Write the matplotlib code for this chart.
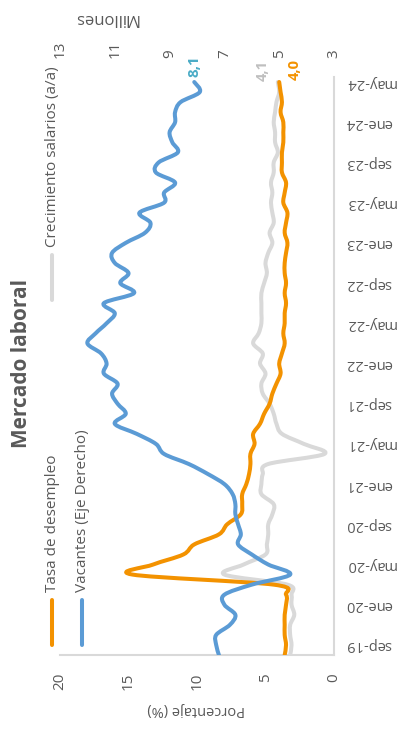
import matplotlib.pyplot as plt
from matplotlib.lines import Line2D
from matplotlib.path import Path
from matplotlib.patches import PathPatch
import matplotlib.transforms as mtransforms

plt.rcParams['font.family'] = ['Open Sans', 'DejaVu Sans']

# monthly, aug-19 .. may-24
meses = ['ago-19', 'sep-19', 'oct-19', 'nov-19', 'dic-19',
         'ene-20', 'feb-20', 'mar-20', 'abr-20', 'may-20', 'jun-20', 'jul-20', 'ago-20', 'sep-20', 'oct-20', 'nov-20', 'dic-20',
         'ene-21', 'feb-21', 'mar-21', 'abr-21', 'may-21', 'jun-21', 'jul-21', 'ago-21', 'sep-21', 'oct-21', 'nov-21', 'dic-21',
         'ene-22', 'feb-22', 'mar-22', 'abr-22', 'may-22', 'jun-22', 'jul-22', 'ago-22', 'sep-22', 'oct-22', 'nov-22', 'dic-22',
         'ene-23', 'feb-23', 'mar-23', 'abr-23', 'may-23', 'jun-23', 'jul-23', 'ago-23', 'sep-23', 'oct-23', 'nov-23', 'dic-23',
         'ene-24', 'feb-24', 'mar-24', 'abr-24', 'may-24']

desempleo = [3.6, 3.5, 3.6, 3.6, 3.6,
             3.5, 3.5, 4.4, 14.7, 13.2, 11.0, 10.2, 8.4, 7.8, 6.8, 6.7, 6.7,
             6.4, 6.2, 6.1, 6.1, 5.8, 5.9, 5.4, 5.1, 4.7, 4.5, 4.2, 3.9,
             4.0, 3.8, 3.6, 3.7, 3.6, 3.6, 3.5, 3.6, 3.5, 3.6, 3.6, 3.5,
             3.4, 3.6, 3.5, 3.4, 3.7, 3.6, 3.5, 3.8, 3.8, 3.8, 3.7, 3.7,
             3.7, 3.9, 3.8, 3.9, 4.0]

salarios = [3.2, 3.1, 3.2, 3.2, 2.9,
            3.1, 3.1, 3.4, 8.0, 6.6, 5.0, 4.9, 4.8, 4.8, 4.5, 4.4, 5.3,
            5.3, 5.2, 4.8, 0.7, 2.2, 3.8, 4.2, 4.4, 4.7, 5.2, 5.3, 5.0,
            5.4, 5.2, 5.9, 5.5, 5.3, 5.3, 5.3, 5.3, 5.1, 4.9, 5.0, 4.8,
            4.5, 4.7, 4.4, 4.5, 4.6, 4.5, 4.6, 4.4, 4.4, 4.1, 4.3, 4.3,
            4.4, 4.3, 4.2, 4.0, 4.1]

vacantes = [7.2, 7.3, 7.3, 6.8, 6.6,
            7.0, 7.0, 6.0, 4.6, 5.4, 6.0, 6.5, 6.4, 6.5, 6.6, 6.6, 6.7,
            7.0, 7.6, 8.3, 9.2, 9.5, 10.2, 11.0, 10.6, 10.9, 11.1, 10.9, 11.4,
            11.3, 11.5, 12.0, 11.7, 11.3, 11.0, 11.4, 10.3, 10.8, 10.5, 11.0, 11.1,
            10.6, 9.9, 9.7, 10.1, 9.2, 9.2, 8.8, 9.5, 9.4, 8.7, 8.9, 9.0,
            8.8, 8.8, 8.6, 7.9, 8.1]

pct_ticks = [0, 5, 10, 15, 20]
mill_ticks = [3, 5, 7, 9, 11, 13]

naranja = '#F39200'
azul = '#5B9BD5'
gris = '#D9D9D9'
texto = '#595959'


def linea_suave(axis, xs, ys, color):
    # Excel-style smoothed line: cubic Bezier through every point
    pts = list(zip(xs, ys))
    n = len(pts)
    verts = [pts[0]]
    codes = [Path.MOVETO]
    for i in range(n - 1):
        p0 = pts[i - 1] if i > 0 else pts[i]
        p1 = pts[i]
        p2 = pts[i + 1]
        p3 = pts[i + 2] if i + 2 < n else pts[i + 1]
        c1 = (p1[0] + (p2[0] - p0[0]) / 6, p1[1] + (p2[1] - p0[1]) / 6)
        c2 = (p2[0] - (p3[0] - p1[0]) / 6, p2[1] - (p3[1] - p1[1]) / 6)
        verts += [c1, c2, p2]
        codes += [Path.CURVE4] * 3
    axis.add_patch(PathPatch(Path(verts, codes), fill=False, edgecolor=color, lw=2.9,
                             joinstyle='round', capstyle='round', zorder=3))


W, H = 409, 730
fig = plt.figure(figsize=(W / 100, H / 100), dpi=100)

# chart is drawn turned on its side: time runs upward, percent axis at the bottom (reversed)
ax = fig.add_axes([60 / W, (H - 655) / H, (334 - 60) / W, (655 - 77) / H])
idx = list(range(len(meses)))

linea_suave(ax, salarios, idx, gris)
linea_suave(ax, desempleo, idx, naranja)
ax.set_xlim(20, 0)
ax.set_ylim(0, 57.5)

ax2 = ax.twiny()
linea_suave(ax2, vacantes, idx, azul)
ax2.set_xlim(13, 3)
ax2.set_ylim(0, 57.5)

for a in (ax, ax2):
    for s in a.spines.values():
        s.set_visible(False)
ax.spines['right'].set_visible(True)
ax.spines['bottom'].set_visible(True)
ax.spines['right'].set_color(gris)
ax.spines['bottom'].set_color(gris)
ax.spines['right'].set_linewidth(1.5)
ax.spines['bottom'].set_linewidth(1.5)

ax.set_xticks(pct_ticks)
ax.set_xticklabels([str(t) for t in pct_ticks], rotation=90, va='top')
ax.tick_params(axis='x', length=0, pad=13, labelsize=11, labelcolor=texto)

ax2.set_xticks(mill_ticks)
ax2.set_xticklabels([str(t) for t in mill_ticks], rotation=90, va='bottom')
ax2.tick_params(axis='x', length=0, pad=14, labelsize=11, labelcolor=texto)

ax.yaxis.tick_right()
ticks_y = idx[1::4]
ax.set_yticks(ticks_y)
ax.set_yticklabels([meses[i] for i in ticks_y], rotation=180, ha='left', va='center')
ax.tick_params(axis='y', length=0, pad=8, labelsize=10.5, labelcolor=texto)

# data labels at the last point
ax2.text(vacantes[-1], 1.0, f'{vacantes[-1]:.1f}'.replace('.', ','), rotation=90,
         transform=mtransforms.blended_transform_factory(ax2.transData, ax2.transAxes),
         ha='center', va='bottom', fontsize=11, fontweight='bold', color='#4BACC6')
ax.annotate(f'{salarios[-1]:.1f}'.replace('.', ','), (salarios[-1], idx[-1]), xytext=(-11, 8),
            textcoords='offset points', rotation=90, ha='center', va='center',
            fontsize=10.5, fontweight='bold', color='#BFBFBF')
ax.annotate(f'{desempleo[-1]:.1f}'.replace('.', ','), (desempleo[-1], idx[-1]), xytext=(11, 9),
            textcoords='offset points', rotation=90, ha='center', va='center',
            fontsize=10.5, fontweight='bold', color=naranja)

# axis titles
fig.text(196 / W, 1 - 709 / H, 'Porcentaje (%)', rotation=180, ha='center', va='center',
         fontsize=10.5, color=texto)
fig.text(106 / W, 1 - 18 / H, 'Millones', rotation=180, ha='center', va='center',
         fontsize=12, color=texto)

# title
fig.text(22 / W, 1 - 364 / H, 'Mercado laboral', rotation=90, ha='center', va='center',
         fontsize=15, fontweight='bold', color=texto)

# legend, drawn by hand because it is rotated too
leyenda = [('Tasa de desempleo', naranja, 52, 645, 600),
           ('Vacantes (Eje Derecho)', azul, 82, 645, 600),
           ('Crecimiento salarios (a/a)', gris, 52, 300, 255)]
for nombre, color, x, y0, y1 in leyenda:
    fig.add_artist(Line2D([x / W, x / W], [1 - y0 / H, 1 - y1 / H], color=color, lw=2.9,
                          solid_capstyle='round', transform=fig.transFigure))
    fig.text((x + 1) / W, 1 - (y1 - 8) / H, nombre, rotation=90, ha='center', va='bottom',
             fontsize=11, color=texto)

fig.savefig('out.png', dpi=100)
